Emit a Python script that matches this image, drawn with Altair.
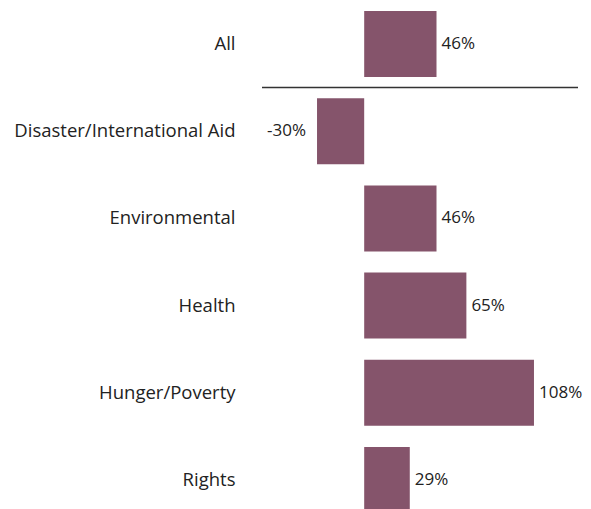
import altair as alt
import pandas as pd

categories = ["All", "Disaster/International Aid", "Environmental", "Health", "Hunger/Poverty", "Rights"]
values = [46, -30, 46, 65, 108, 29]

df = pd.DataFrame({"cat": categories, "val": values})
df["label"] = [f"{v}%" for v in values]

FONT = "Open Sans"
FS_AXIS = 18.5
FS_VAL = 17
BAR = "#85546B"
XDOM = [-65, 136]

y_enc = alt.Y("cat:N", sort=categories,
              scale=alt.Scale(paddingInner=0.243, paddingOuter=0.034),
              axis=alt.Axis(title=None, ticks=False, domain=False, labelPadding=27,
                            labelFontSize=FS_AXIS, labelColor="#222", labelFont=FONT,
                            labelLimit=400))
x_enc = alt.X("val:Q", scale=alt.Scale(domain=XDOM, nice=False, zero=True), axis=None)

base = alt.Chart(df)
bars = base.mark_bar(color=BAR).encode(x=x_enc, y=y_enc)
pos = base.transform_filter("datum.val >= 0").mark_text(
    align="left", dx=5, fontSize=FS_VAL, font=FONT, color="#222").encode(
    x=x_enc, y=alt.Y("cat:N", sort=categories), text="label:N")
neg = base.transform_filter("datum.val < 0").mark_text(
    align="right", dx=-11, fontSize=FS_VAL, font=FONT, color="#222").encode(
    x=x_enc, y=alt.Y("cat:N", sort=categories), text="label:N")

rule_df = pd.DataFrame({"cat": ["All"], "x0": [XDOM[0]], "x1": [XDOM[1]]})
rule = alt.Chart(rule_df).mark_rule(color="#333", strokeWidth=1.5, yOffset=10.6).encode(
    y=alt.Y("cat:N", sort=categories, bandPosition=1),
    x=alt.X("x0:Q", scale=alt.Scale(domain=XDOM, nice=False)),
    x2="x1:Q")

chart = alt.layer(bars, pos, neg, rule).properties(
    width=316, height=508,
    autosize=alt.AutoSizeParams(type="none"),
    padding={"left": 254, "top": 0, "right": 5, "bottom": 0},
).configure_view(stroke=None)

chart.save("out.html", embed_options={"renderer": "svg", "actions": False})
